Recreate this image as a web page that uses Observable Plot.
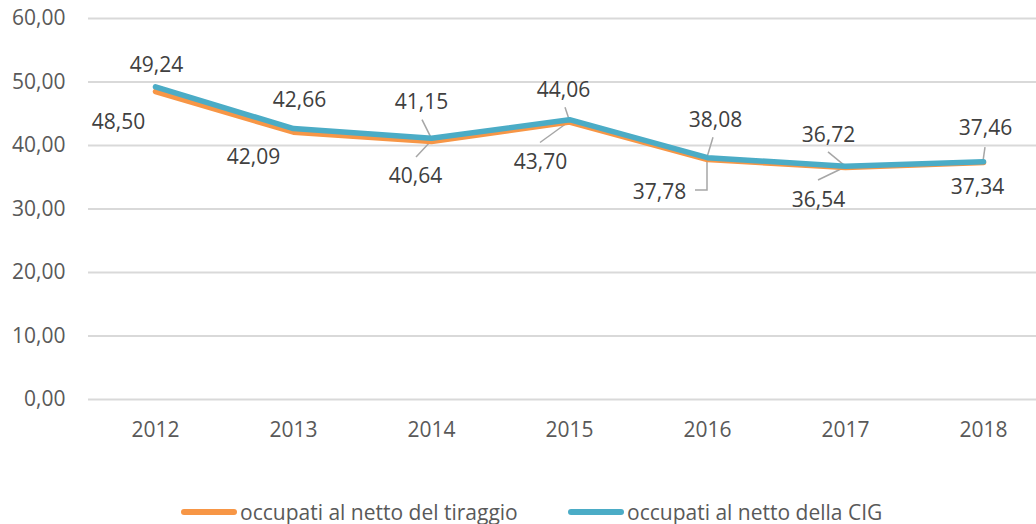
<!DOCTYPE html>
<html>
<head>
<meta charset="utf-8">
<script src="https://cdn.jsdelivr.net/npm/d3@7"></script>
<script src="https://cdn.jsdelivr.net/npm/@observablehq/plot@0.6"></script>
<style>
  html, body { margin: 0; padding: 0; background: #fff; }
  #wrap { position: relative; width: 1036px; height: 524px; font-family: "Open Sans", sans-serif; }
  #legend { position: absolute; left: 0; top: 496px; width: 1036px; height: 32px; }
  .item { position: absolute; top: 0; height: 32px; display: flex; align-items: center; }
  .sw { width: 56px; height: 6px; border-radius: 3px; margin-right: 3px; }
  .lt { font-size: 21px; color: #595959; white-space: nowrap; }
</style>
</head>
<body>
<div id="wrap"><div id="chart"></div><div id="legend"></div></div>
<script>
// ---- data ----
const years = [2012, 2013, 2014, 2015, 2016, 2017, 2018];
const tiraggio = [48.50, 42.09, 40.64, 43.70, 37.78, 36.54, 37.34];
const cig = [49.24, 42.66, 41.15, 44.06, 38.08, 36.72, 37.46];
const yTicks = [0, 10, 20, 30, 40, 50, 60];
const seriesNames = ["occupati al netto del tiraggio", "occupati al netto della CIG"];

// ---- layout (pixel offsets of labels and leader lines) ----
const colors = ["#F79646", "#4BACC6"];
const offCig = [[1, -22], [6, -28], [-10, -36], [-6, -29], [8, -37], [-17, -31], [2, -33]];
const offTir = [[-37, 31], [-40, 25], [-16, 35], [-29, 40], [-48, 33], [-27, 33], [-6, 25]];
const leaders = [
  {s: 1, i: 2, pts: [[-9, -18], [0, 0]]},
  {s: 0, i: 2, pts: [[-15, 16], [0, 0]]},
  {s: 1, i: 3, pts: [[-4, -12], [0, 0]]},
  {s: 0, i: 3, pts: [[-29, 21], [0, 0]]},
  {s: 0, i: 4, pts: [[-12, 31], [0, 31], [0, 0]]},
  {s: 1, i: 4, pts: [[6, -20], [0, 0]]},
  {s: 1, i: 5, pts: [[-17, -14], [0, 0]]},
  {s: 0, i: 5, pts: [[-27, 13], [0, 0]]},
  {s: 1, i: 6, pts: [[2, -14], [0, 0]]}
];

const fmt = v => v.toFixed(2).replace(".", ",");
const idx = years.map((_, i) => i);
const series = [tiraggio, cig];
const FS = 21;

const labelMarks = [];
idx.forEach(i => {
  labelMarks.push(Plot.text([i], {x: d => years[d], y: d => cig[d], text: d => fmt(cig[d]),
    dx: offCig[i][0], dy: offCig[i][1], fontSize: FS, fill: "#404040"}));
  labelMarks.push(Plot.text([i], {x: d => years[d], y: d => tiraggio[d], text: d => fmt(tiraggio[d]),
    dx: offTir[i][0], dy: offTir[i][1], fontSize: FS, fill: "#404040"}));
});

const leaderMark = (index, scales) => {
  const ns = "http://www.w3.org/2000/svg";
  const g = document.createElementNS(ns, "g");
  leaders.forEach(l => {
    const px = scales.x(years[l.i]);
    const py = scales.y(series[l.s][l.i]);
    const p = document.createElementNS(ns, "path");
    p.setAttribute("d", "M" + l.pts.map(q => (px + q[0]) + "," + (py + q[1])).join("L"));
    p.setAttribute("fill", "none");
    p.setAttribute("stroke", "#A6A6A6");
    p.setAttribute("stroke-width", "1.5");
    g.appendChild(p);
  });
  return g;
};

const plot = Plot.plot({
  width: 1036,
  height: 490,
  marginTop: 18,
  marginBottom: 91,
  marginLeft: 155,
  marginRight: 53,
  style: {fontFamily: "'Open Sans', sans-serif", background: "#fff", overflow: "visible"},
  x: {type: "linear", domain: [2012, 2018]},
  y: {domain: [0, 60]},
  marks: [
    Plot.ruleY(yTicks, {stroke: "#D9D9D9", strokeWidth: 1.8, insetLeft: -67, insetRight: -53}),
    Plot.axisY(yTicks, {tickSize: 0, tickPadding: 90, tickFormat: fmt, fontSize: FS, fill: "#595959"}),
    Plot.axisX(years, {tickSize: 0, tickPadding: 23, tickFormat: d => String(d), fontSize: FS, fill: "#595959"}),
    leaderMark,
    Plot.line(idx, {x: d => years[d], y: d => tiraggio[d], stroke: colors[0], strokeWidth: 5.5, strokeLinecap: "round", strokeLinejoin: "round"}),
    Plot.line(idx, {x: d => years[d], y: d => cig[d], stroke: colors[1], strokeWidth: 5.5, strokeLinecap: "round", strokeLinejoin: "round"}),
    ...labelMarks
  ]
});
document.getElementById("chart").appendChild(plot);

const legend = document.getElementById("legend");
const lefts = [181, 568];
seriesNames.forEach((name, k) => {
  const it = document.createElement("div");
  it.className = "item";
  it.style.left = lefts[k] + "px";
  const sw = document.createElement("div");
  sw.className = "sw";
  sw.style.background = colors[k];
  const t = document.createElement("span");
  t.className = "lt";
  t.textContent = name;
  it.appendChild(sw); it.appendChild(t);
  legend.appendChild(it);
});
</script>
</body>
</html>
